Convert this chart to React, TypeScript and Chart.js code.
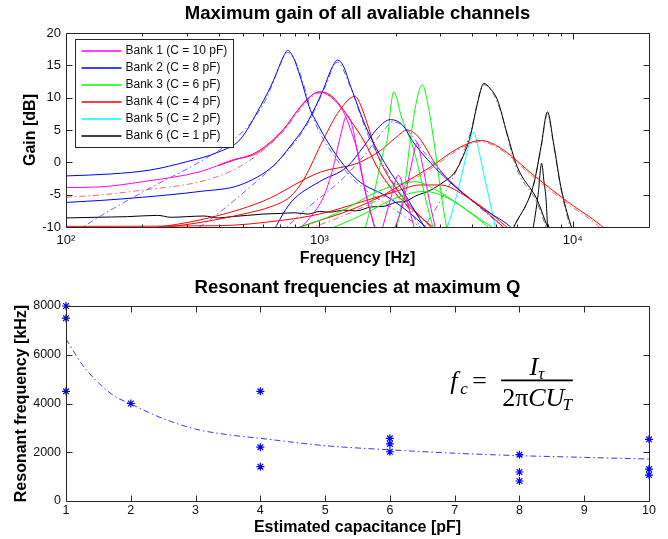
import React, { useEffect, useRef } from 'react';
import { Chart, registerables } from 'chart.js';
Chart.register(...registerables);

const FONT = "'Liberation Sans', Arial, Helvetica, sans-serif";
const SERIF = "'Liberation Serif', 'DejaVu Serif', serif";
const AXIS = '#262626';
const TXT = '#111';

type Pt = [number, number];

// ---------- top chart data: [frequency Hz, gain dB] ----------
const bankNames = ['Bank 1 (C = 10 pF)', 'Bank 2 (C = 8 pF)', 'Bank 3 (C = 6 pF)', 'Bank 4 (C = 4 pF)', 'Bank 5 (C = 2 pF)', 'Bank 6 (C = 1 pF)'];
const bankColors = ['#ff00ff', '#0000ff', '#00ff00', '#ff0000', '#00ffff', '#000000'];
const fitColors = ['rgba(255,0,255,0.7)', 'rgba(40,40,255,0.7)', 'rgba(0,220,0,0.7)', 'rgba(255,40,40,0.7)', 'rgba(0,230,230,0.7)', 'rgba(90,90,90,0.8)'];

const mag1: Pt[] = [[100, -3.9], [136, -3.8], [200, -3.0], [338, -1.45], [457, 0.4], [567, 1.4], [721, 5.0], [841, 8.6], [920, 10.2], [1000, 10.9], [1100, 10.2], [1245, 7.8], [1330, 5], [1409, 1.9], [1545, -5.8], [1636, -9.4], [1680, -11]];
const mag2: Pt[] = [[800, -11], [920, -8.5], [1040, -5.3], [1130, -1], [1210, 4], [1285, 7.3], [1350, 5.5], [1409, 1.9], [1480, -2.5], [1545, -5.8], [1636, -9.4], [1680, -11]];
const mag3: Pt[] = [[1950, -11], [2150, -6], [2320, 0], [2430, 3.0], [2540, 0], [2720, -6], [2900, -11]];
const mag4: Pt[] = [[1750, -11], [1900, -6], [2050, -2], [2200, -5.5], [2400, -11]];

const blue1: Pt[] = [[100, -2.1], [150, -1.8], [214, -1.2], [300, 0.1], [400, 1.6], [486, 3.5], [584, 8.6], [660, 12.7], [720, 16.3], [750, 17.3], [790, 16.2], [841, 13.2], [921, 8.1], [948, 7.1], [1130, 1.9], [1410, -2.7], [1850, -5.3], [2300, -8], [2800, -11]];
const blue1Fit: Pt[] = [[100, -12], [117, -10], [214, -4], [335, 0], [457, 3.45], [533, 6], [620, 10], [690, 14.5], [750, 17], [800, 15.8], [860, 12.5], [948, 6.8], [1130, 1.3], [1410, -3.2], [1850, -6.5], [2500, -10], [2700, -11]];
const blue2: Pt[] = [[100, -6.2], [136, -5.9], [200, -5.4], [338, -4.5], [487, -3.5], [660, -0.5], [768, 2.5], [894, 6.1], [1035, 11.2], [1120, 14.6], [1180, 15.8], [1240, 15.0], [1330, 11.7], [1545, 5.0], [1850, -0.7], [2087, -3.8], [2600, -10], [2700, -11]];
const blue2Fit: Pt[] = [[300, -11], [336, -10], [515, -4.3], [700, 0.5], [900, 6], [1050, 11.5], [1180, 15.5], [1300, 12.5], [1545, 4.5], [1850, -1.5], [2500, -10], [2600, -11]];
const blue3: Pt[] = [[650, -11], [768, -6.3], [1000, -3], [1285, -0.7], [1500, 2.5], [1700, 5.3], [1907, 6.6], [2125, 5.8], [2361, 3], [3010, -1.7], [4320, -6.9], [5690, -10], [6000, -11]];
const blue3Fit: Pt[] = [[700, -11], [900, -7], [1200, -3], [1500, 1], [1800, 5], [1950, 6.3], [2200, 5.2], [2600, 1.5], [3200, -2.5], [4300, -7], [5500, -10.5]];

const green1: Pt[] = [[1500, -11], [1640, -5], [1795, 1.9], [1853, 3.5], [1920, 9], [1963, 10.9], [2020, 10], [2087, 7.6], [2361, 1.9], [2670, -6.8], [2850, -11]];
const green2: Pt[] = [[2000, -11], [2160, -4.3], [2288, 3.5], [2420, 9.5], [2550, 12], [2680, 9], [2825, 3.5], [3010, -4.3], [3180, -10], [3250, -11]];
const green3: Pt[] = [[700, -11], [1000, -9], [1300, -7], [1600, -5], [2000, -3.5], [2400, -3], [2800, -4], [3400, -6], [4200, -8.5], [5000, -10.5]];
const green4: Pt[] = [[1000, -11], [1500, -8], [2000, -5.5], [2600, -4.5], [3200, -5.5], [4000, -8], [4800, -10.5]];

const red1Fit: Pt[] = [[100, -5.4], [136, -5.05], [200, -4.3], [338, -3.0], [457, -1.2], [567, 1.1], [721, 4.8], [841, 8.2], [1000, 10.7], [1106, 10.3], [1213, 8.6], [1350, 6], [1491, 3.4], [1740, -1.7], [2000, -5], [2400, -8], [2800, -10], [3000, -11]];
const red1: Pt[] = [[400, -0.5], [457, 0.3], [567, 1.6], [721, 5.1], [841, 8.5], [1000, 10.9], [1106, 10.4], [1213, 8.7], [1350, 6.1], [1491, 3.5], [1740, -1.6], [2000, -4.8], [2400, -7.8], [2800, -10], [3000, -11]];
const red2: Pt[] = [[200, -10.5], [338, -9.3], [500, -8], [650, -6.8], [768, -5.3], [866, -2.7], [1036, 3.5], [1200, 8], [1384, 10.2], [1450, 9], [1545, 6], [1686, 1.4], [1906, -2.7], [2200, -6], [2600, -9], [2900, -11]];
const red3: Pt[] = [[150, -11], [338, -8.9], [600, -6], [1010, -1.5], [1400, -0.2], [1740, 1.8], [2000, 3.8], [2220, 5.0], [2450, 4], [2925, -0.7], [3710, -4.8], [4750, -7.9], [5700, -10.5], [6000, -11]];
const red4: Pt[] = [[700, -11], [1000, -9], [1300, -7.5], [1742, -5.3], [2200, -3], [2800, -0.5], [3300, 1.5], [3710, 2.6], [4320, 3.4], [5190, 2.2], [7010, -2], [9550, -6.1], [12870, -9.7], [14000, -11]];
const red4Fit: Pt[] = [[800, -11], [1200, -8.5], [1742, -5.6], [2200, -3.3], [2800, -0.8], [3300, 1.2], [3710, 2.4], [4320, 3.2], [5190, 2.0], [7010, -2.3], [9550, -6.4], [12500, -9.7], [13500, -11]];
const red5: Pt[] = [[100, -9.9], [400, -9.8], [700, -9], [1000, -8], [1500, -6], [2000, -4.5], [2500, -3.5], [3000, -3.5], [3700, -5], [4500, -7.5], [5500, -10.5]];

const cyan1: Pt[] = [[3100, -11], [3200, -10], [3610, -2.7], [3850, 2], [4060, 4.7], [4250, 2], [4450, -1.7], [4880, -8.9], [5000, -11]];

const black1: Pt[] = [[100, -8.6], [130, -8.5], [175, -8.4], [230, -8.2], [260, -8.5], [300, -8.4], [350, -8.3], [400, -8.6], [450, -8.4], [520, -8.2], [600, -8.0], [700, -7.9], [800, -7.8], [900, -8.0], [1000, -7.6], [1100, -7.7], [1250, -7.4], [1400, -7.5], [1600, -6.9], [1800, -6.8], [2000, -6.2], [2200, -6.0], [2400, -5.2], [2750, -4.3], [3100, -3], [3400, -1.7], [3700, 1], [3940, 4.0], [4200, 9], [4460, 12.2], [4700, 11.5], [5050, 9.6], [5500, 4.5], [6040, -0.7], [7240, -5.8], [7960, -10], [8200, -11]];
const black1Fit: Pt[] = [[2500, -11], [3000, -6], [3500, -1], [3940, 4.5], [4460, 12], [5050, 9.2], [6040, -1.2], [7240, -6.3], [8000, -11]];
const black2: Pt[] = [[5700, -11], [5860, -10], [7030, -3.2], [7500, 2.5], [7950, 7.8], [8400, 3], [8980, -3.8], [9820, -9.7], [10100, -11]];
const black2Fit: Pt[] = [[5600, -11], [7000, -3.6], [7500, 2.2], [7950, 7.5], [8400, 2.7], [8990, -4.2], [9900, -11]];
const black3: Pt[] = [[6900, -11], [7010, -9.7], [7300, -5], [7540, -0.15], [7700, -3], [7850, -5.8], [7950, -9.7], [8000, -11]];

const gainSeries: { bank: number; fit: boolean; pts: Pt[] }[] = [
  { bank: 0, fit: false, pts: mag1 }, { bank: 0, fit: false, pts: mag2 }, { bank: 0, fit: false, pts: mag3 }, { bank: 0, fit: false, pts: mag4 },
  { bank: 2, fit: false, pts: green3 }, { bank: 2, fit: false, pts: green4 },
  { bank: 3, fit: false, pts: red5 },
  { bank: 1, fit: true, pts: blue1Fit }, { bank: 1, fit: false, pts: blue1 },
  { bank: 1, fit: true, pts: blue2Fit }, { bank: 1, fit: false, pts: blue2 },
  { bank: 1, fit: true, pts: blue3Fit }, { bank: 1, fit: false, pts: blue3 },
  { bank: 2, fit: false, pts: green1 }, { bank: 2, fit: false, pts: green2 },
  { bank: 3, fit: true, pts: red1Fit }, { bank: 3, fit: false, pts: red1 }, { bank: 3, fit: false, pts: red2 }, { bank: 3, fit: false, pts: red3 },
  { bank: 3, fit: true, pts: red4Fit }, { bank: 3, fit: false, pts: red4 },
  { bank: 4, fit: false, pts: cyan1 },
  { bank: 5, fit: false, pts: black1 }, { bank: 5, fit: true, pts: black1Fit },
  { bank: 5, fit: false, pts: black2 }, { bank: 5, fit: true, pts: black2Fit }, { bank: 5, fit: false, pts: black3 },
];

const freqMajorTicks = [100, 1000, 10000];
const freqMin = 100;
const freqMax = 20000;
const gainTicks = [-10, -5, 0, 5, 10, 15, 20];

// ---------- bottom chart data ----------
const capMeasured = [1, 1, 1, 2, 4, 4, 4, 6, 6, 6, 8, 8, 8, 10, 10, 10];
const freqMeasured = [8000, 7500, 4500, 4000, 4500, 2210, 1410, 2570, 2340, 2020, 1900, 1190, 820, 2530, 1310, 1065];
const capFit = [1, 1.25, 1.5, 1.75, 2, 2.5, 3, 3.5, 4, 5, 6, 7, 8, 9, 10];
const freqFit = [6650, 5600, 4850, 4300, 3980, 3380, 2950, 2720, 2570, 2270, 2100, 1960, 1860, 1790, 1720];
const capTicks = [1, 2, 3, 4, 5, 6, 7, 8, 9, 10];
const resTicks = [0, 2000, 4000, 6000, 8000];

const SUP: Record<number, string> = { 2: '\u00B2', 3: '\u00B3', 4: '\u2074' };

function framePlugin(xTicks: [number, number][], yTicks: [number, number][]) {
  return {
    id: 'frame',
    afterDatasetsDraw(chart: any) {
      const { ctx, chartArea: a, scales } = chart;
      const L = Math.round(a.left) + 0.5, R = Math.round(a.right) + 0.5;
      const T = Math.round(a.top) + 0.5, B = Math.round(a.bottom) + 0.5;
      ctx.save();
      ctx.strokeStyle = AXIS;
      ctx.lineWidth = 1;
      ctx.setLineDash([]);
      ctx.beginPath();
      for (const [v, len] of xTicks) {
        const px = Math.round(scales.x.getPixelForValue(v)) + 0.5;
        ctx.moveTo(px, B); ctx.lineTo(px, B - len);
        ctx.moveTo(px, T); ctx.lineTo(px, T + len);
      }
      for (const [v, len] of yTicks) {
        const py = Math.round(scales.y.getPixelForValue(v)) + 0.5;
        ctx.moveTo(L, py); ctx.lineTo(L + len, py);
        ctx.moveTo(R, py); ctx.lineTo(R - len, py);
      }
      ctx.rect(L, T, R - L, B - T);
      ctx.stroke();
      ctx.restore();
    },
  };
}

const legendPlugin = {
  id: 'bankLegend',
  afterDatasetsDraw(chart: any) {
    const { ctx, chartArea: a } = chart;
    const x0 = Math.round(a.left) + 9.5, y0 = Math.round(a.top) + 6.5;
    const w = 158, h = 108, row = 17;
    ctx.save();
    ctx.setLineDash([]);
    ctx.fillStyle = '#fff';
    ctx.fillRect(x0, y0, w, h);
    ctx.strokeStyle = AXIS;
    ctx.lineWidth = 1;
    ctx.strokeRect(x0, y0, w, h);
    ctx.font = `12px ${FONT}`;
    ctx.textBaseline = 'middle';
    ctx.textAlign = 'left';
    bankNames.forEach((name, i) => {
      const cy = Math.round(y0 + 11.5 + i * row);
      ctx.strokeStyle = bankColors[i];
      ctx.lineWidth = 1.6;
      ctx.beginPath();
      ctx.moveTo(x0 + 6, cy); ctx.lineTo(x0 + 46, cy);
      ctx.stroke();
      ctx.fillStyle = TXT;
      ctx.fillText(name, x0 + 50, cy);
    });
    ctx.restore();
  },
};

const formulaAnchor = { x: 6.93, y: 4950 };
const formulaPlugin = {
  id: 'formula',
  afterDatasetsDraw(chart: any) {
    const { ctx, scales } = chart;
    const ax = scales.x.getPixelForValue(formulaAnchor.x);
    const ay = Math.round(scales.y.getPixelForValue(formulaAnchor.y)) + 0.5;
    ctx.save();
    ctx.fillStyle = '#000';
    ctx.textBaseline = 'alphabetic';
    ctx.textAlign = 'left';
    const big = 26, small = 17;
    ctx.font = `italic ${big}px ${SERIF}`;
    ctx.fillText('f', ax, ay + 8);
    ctx.font = `italic ${small}px ${SERIF}`;
    ctx.fillText('c', ax + 10, ay + 13);
    ctx.font = `${big}px ${SERIF}`;
    ctx.fillText('=', ax + 22, ay + 8);
    ctx.font = `${big}px ${SERIF}`;
    const w2pi = ctx.measureText('2\u03C0').width;
    ctx.font = `italic ${big}px ${SERIF}`;
    const wCU = ctx.measureText('CU').width;
    ctx.font = `italic ${small}px ${SERIF}`;
    const wT = ctx.measureText('T').width;
    const denW = w2pi + wCU + wT - 2;
    const barL = ax + 51;
    const barW = Math.max(denW + 2, 71);
    ctx.fillRect(barL, ay - 1, barW, 1.8);
    const dx = barL + (barW - denW) / 2;
    ctx.font = `${big}px ${SERIF}`;
    ctx.fillText('2\u03C0', dx, ay + 25);
    ctx.font = `italic ${big}px ${SERIF}`;
    ctx.fillText('CU', dx + w2pi, ay + 25);
    ctx.font = `italic ${small}px ${SERIF}`;
    ctx.fillText('T', dx + w2pi + wCU - 2, ay + 29);
    ctx.font = `italic ${big}px ${SERIF}`;
    const wI = ctx.measureText('I').width;
    ctx.font = `italic ${small}px ${SERIF}`;
    const wTau = ctx.measureText('\u03C4').width;
    const nx = barL + (barW - wI - wTau) / 2;
    ctx.font = `italic ${big}px ${SERIF}`;
    ctx.fillText('I', nx, ay - 6);
    ctx.font = `italic ${small}px ${SERIF}`;
    ctx.fillText('\u03C4', nx + wI, ay - 2);
    ctx.restore();
  },
};

function topConfig(): any {
  const minorTicks: [number, number][] = [];
  for (const d of freqMajorTicks) for (let k = 2; k <= 9; k++) { const v = d * k; if (v < freqMax) minorTicks.push([v, 3]); }
  const xTicks: [number, number][] = [...freqMajorTicks.map((v) => [v, 6] as [number, number]), ...minorTicks];
  const yTicks: [number, number][] = gainTicks.map((v) => [v, 6]);
  return {
    type: 'scatter',
    data: {
      datasets: gainSeries.map((s) => ({
        data: s.pts.map(([x, y]) => ({ x, y })),
        showLine: true,
        pointRadius: 0,
        borderWidth: 1,
        borderColor: s.fit ? fitColors[s.bank] : bankColors[s.bank],
        borderDash: s.fit ? [6, 3, 1.5, 3] : [],
        cubicInterpolationMode: 'monotone',
        fill: false,
      })),
    },
    options: {
      responsive: false,
      animation: false,
      devicePixelRatio: 1,
      events: [],
      layout: { padding: { left: 0, right: 19, top: 0, bottom: 0 } },
      plugins: {
        legend: { display: false },
        tooltip: { enabled: false },
        title: {
          display: true, fullSize: false, text: 'Maximum gain of all avaliable channels', color: '#000',
          font: { family: FONT, size: 18.5, weight: 'bold', lineHeight: 1.2 }, padding: { top: 2.9, bottom: 7.9 },
        },
      },
      scales: {
        x: {
          type: 'logarithmic', min: freqMin, max: freqMax, position: 'bottom',
          grid: { display: false, drawTicks: false }, border: { display: false },
          afterBuildTicks: (s: any) => { s.ticks = freqMajorTicks.map((v) => ({ value: v })); },
          ticks: {
            autoSkip: false, maxRotation: 0, padding: 6, color: TXT, font: { family: FONT, size: 13 },
            callback: (v: any) => '10' + (SUP[Math.round(Math.log10(Number(v)))] || ''),
          },
          title: { display: true, text: 'Frequency [Hz]', color: '#000', font: { family: FONT, size: 16, weight: 'bold', lineHeight: 1.2 }, padding: { top: 0, bottom: 1.4 } },
          afterFit: (s: any) => { s.height = 43; },
        },
        y: {
          min: -10, max: 20,
          grid: { display: false, drawTicks: false }, border: { display: false },
          afterBuildTicks: (s: any) => { s.ticks = gainTicks.map((v) => ({ value: v })); },
          ticks: { padding: 5, color: TXT, font: { family: FONT, size: 13 }, callback: (v: any) => String(v) },
          title: { display: true, text: 'Gain [dB]', color: '#000', font: { family: FONT, size: 16, weight: 'bold', lineHeight: 1.2 }, padding: { top: 21.4, bottom: 0 } },
          afterFit: (s: any) => { s.width = 66; },
        },
      },
    },
    plugins: [framePlugin(xTicks, yTicks), legendPlugin],
  };
}

function bottomConfig(): any {
  const xTicks: [number, number][] = capTicks.map((v) => [v, 6]);
  const yTicks: [number, number][] = resTicks.map((v) => [v, 6]);
  return {
    type: 'scatter',
    data: {
      datasets: [
        {
          data: capFit.map((x, i) => ({ x, y: freqFit[i] })),
          showLine: true, pointRadius: 0, borderWidth: 1, borderColor: 'rgba(20,20,255,0.85)',
          borderDash: [6, 3, 1.5, 3], cubicInterpolationMode: 'monotone', fill: false,
        },
        {
          data: capMeasured.map((x, i) => ({ x, y: freqMeasured[i] })),
          showLine: false, pointStyle: 'star', pointRadius: 4, borderWidth: 1.2,
          borderColor: '#0000ff', backgroundColor: '#0000ff', clip: false,
        },
      ],
    },
    options: {
      responsive: false,
      animation: false,
      devicePixelRatio: 1,
      events: [],
      layout: { padding: { left: 0, right: 19, top: 0, bottom: 0 } },
      plugins: {
        legend: { display: false },
        tooltip: { enabled: false },
        title: {
          display: true, fullSize: false, text: 'Resonant frequencies at maximum Q', color: '#000',
          font: { family: FONT, size: 18.5, weight: 'bold', lineHeight: 1.2 }, padding: { top: 6.9, bottom: 6.9 },
        },
      },
      scales: {
        x: {
          type: 'linear', min: 1, max: 10, position: 'bottom',
          grid: { display: false, drawTicks: false }, border: { display: false },
          afterBuildTicks: (s: any) => { s.ticks = capTicks.map((v) => ({ value: v })); },
          ticks: { autoSkip: false, maxRotation: 0, padding: 2, color: TXT, font: { family: FONT, size: 12.5 }, callback: (v: any) => String(v) },
          title: { display: true, text: 'Estimated capacitance [pF]', color: '#000', font: { family: FONT, size: 16, weight: 'bold', lineHeight: 1.2 }, padding: { top: 0, bottom: 1.4 } },
          afterFit: (s: any) => { s.height = 38; },
        },
        y: {
          min: 0, max: 8000,
          grid: { display: false, drawTicks: false }, border: { display: false },
          afterBuildTicks: (s: any) => { s.ticks = resTicks.map((v) => ({ value: v })); },
          ticks: { padding: 5, color: TXT, font: { family: FONT, size: 12.5 }, callback: (v: any) => String(v) },
          title: { display: true, text: 'Resonant frequency [kHz]', color: '#000', font: { family: FONT, size: 16, weight: 'bold', lineHeight: 1.2 }, padding: { top: 11.9, bottom: 0 } },
          afterFit: (s: any) => { s.width = 66; },
        },
      },
    },
    plugins: [framePlugin(xTicks, yTicks), formulaPlugin],
  };
}

export default function App() {
  const topRef = useRef<HTMLCanvasElement>(null);
  const botRef = useRef<HTMLCanvasElement>(null);
  useEffect(() => {
    const c1 = new Chart(topRef.current as HTMLCanvasElement, topConfig());
    const c2 = new Chart(botRef.current as HTMLCanvasElement, bottomConfig());
    return () => { c1.destroy(); c2.destroy(); };
  }, []);
  return (
    <div style={{ position: 'absolute', left: 0, top: 0, width: 668, height: 539, background: '#fff' }}>
      <canvas ref={topRef} width={668} height={270} style={{ position: 'absolute', left: 0, top: 0, width: 668, height: 270 }} />
      <canvas ref={botRef} width={668} height={269} style={{ position: 'absolute', left: 0, top: 270, width: 668, height: 269 }} />
    </div>
  );
}
